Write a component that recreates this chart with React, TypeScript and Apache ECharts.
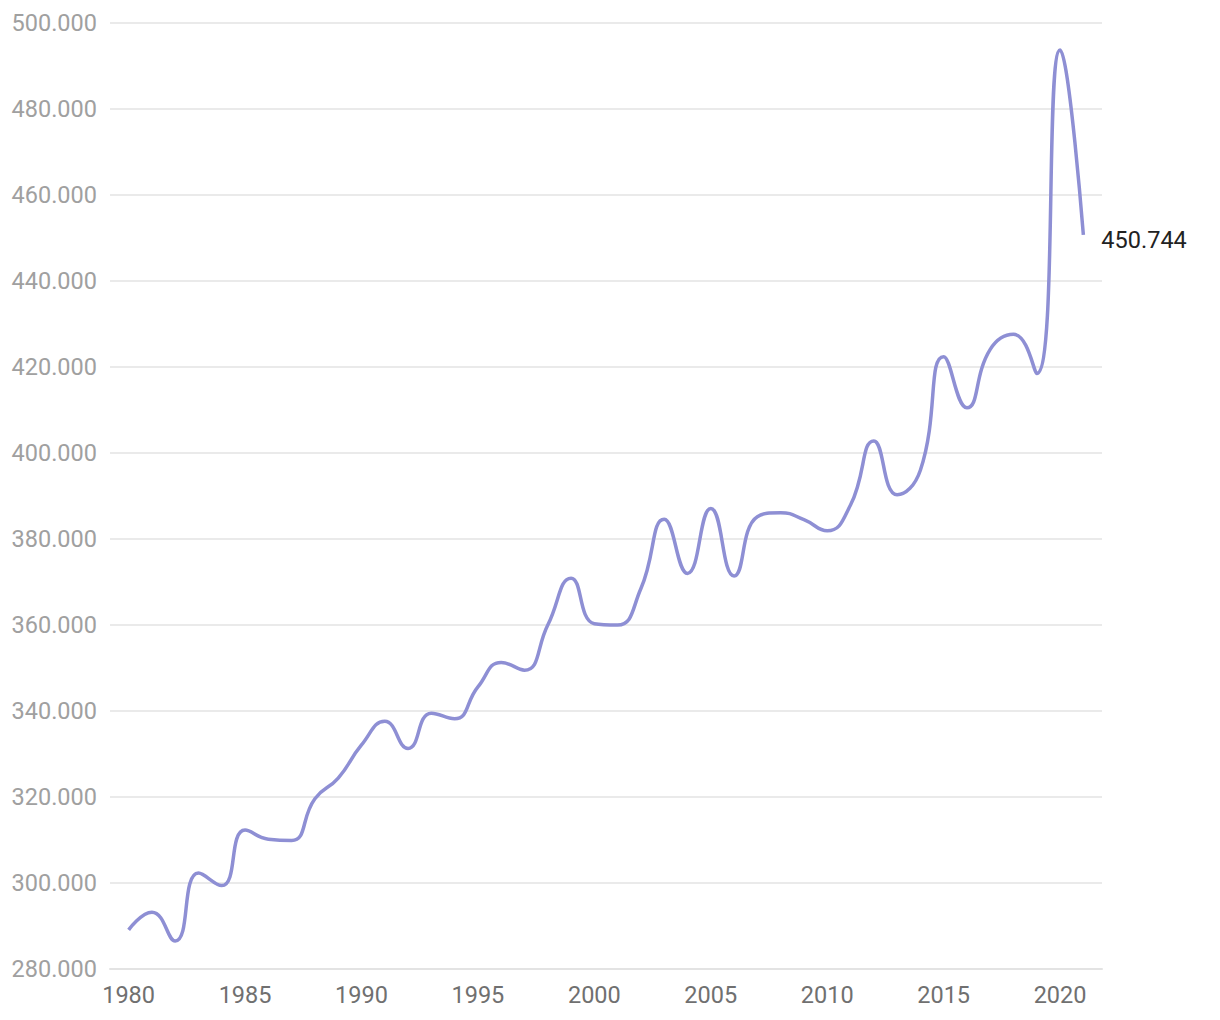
import React, { useEffect, useRef } from "react";
import * as echarts from "echarts";

const years: number[] = [
  1980, 1981, 1982, 1983, 1984, 1985, 1986, 1987, 1988, 1989,
  1990, 1991, 1992, 1993, 1994, 1995, 1996, 1997, 1998, 1999,
  2000, 2001, 2002, 2003, 2004, 2005, 2006, 2007, 2008, 2009,
  2010, 2011, 2012, 2013, 2014, 2015, 2016, 2017, 2018, 2019,
  2020, 2021,
];

const values: number[] = [
  289.1, 293.2, 286.5, 302.3, 299.4, 312.3, 310.2, 309.9, 319.6, 324.4,
  332.1, 337.6, 331.3, 339.5, 338.2, 345.6, 351.3, 349.5, 360.0, 370.9,
  360.3, 360.0, 368.5, 384.6, 372.0, 387.1, 371.4, 385.2, 386.1, 384.5,
  381.9, 387.9, 402.8, 390.3, 396.0, 422.4, 410.5, 424.1, 427.6, 418.5,
  493.7, 450.744,
];

const xTickLabels: number[] = [1980, 1985, 1990, 1995, 2000, 2005, 2010, 2015, 2020];
const yTickValues: number[] = [280, 300, 320, 340, 360, 380, 400, 420, 440, 460, 480, 500];

export default function App() {
  const ref = useRef<HTMLDivElement>(null);

  useEffect(() => {
    document.body.style.margin = "0";
    if (!ref.current) return;
    const chart = echarts.init(ref.current, null, { renderer: "svg" });
    const data = years.map((y, i) => [y, values[i]]);
    chart.setOption({
      animation: false,
      textStyle: { fontFamily: "Roboto" },
      grid: { left: 110, right: 118, top: 23, bottom: 51, containLabel: false },
      xAxis: {
        type: "value",
        min: 1979.2,
        max: 2021.8,
        splitLine: { show: false },
        axisTick: { show: false },
        axisLine: { show: true, lineStyle: { color: "#e3e3e3", width: 2 } },
        axisLabel: {
          customValues: xTickLabels,
          color: "#707070",
          fontSize: 23.5,
          margin: 14,
          fontFamily: "Roboto",
          formatter: (v: number) => String(v),
        },
      },
      yAxis: {
        type: "value",
        min: yTickValues[0],
        max: yTickValues[yTickValues.length - 1],
        interval: 20,
        axisLine: { show: false },
        axisTick: { show: false },
        splitLine: { lineStyle: { color: "#e3e3e3", width: 1.5 } },
        axisLabel: {
          color: "#a0a0a0",
          fontSize: 23.5,
          margin: 13,
          fontFamily: "Roboto",
          formatter: (v: number) => v.toFixed(3),
        },
      },
      series: [
        {
          type: "line",
          data,
          smooth: true,
          symbol: "none",
          lineStyle: { color: "#8e8fd4", width: 3.5 },
          itemStyle: { color: "#8e8fd4" },
          endLabel: {
            show: true,
            distance: 18,
            offset: [0, 5],
            color: "#222222",
            fontSize: 23.5,
            fontFamily: "Roboto",
            formatter: (p: any) => Number(p.value[1]).toFixed(3),
          },
        },
      ],
    });
    return () => chart.dispose();
  }, []);

  return <div ref={ref} style={{ width: 1220, height: 1020 }} />;
}
